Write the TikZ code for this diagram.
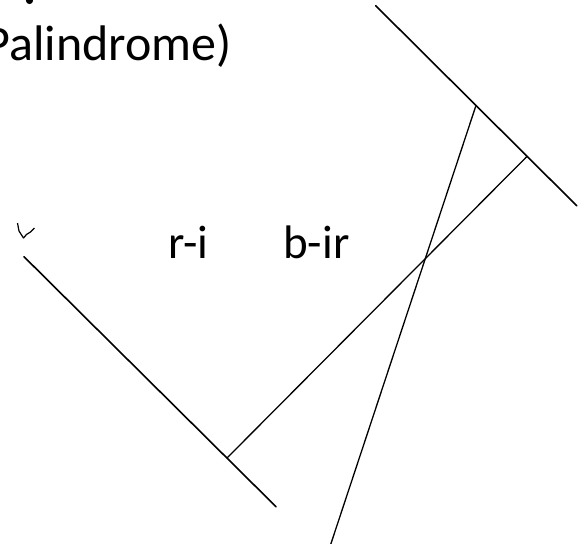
\documentclass[tikz,border=0pt]{standalone}
\usepackage{fontspec}
\setmainfont{Carlito}
\begin{document}
\begin{tikzpicture}[x=1pt,y=-1pt,
  mirror/.style={line width=1.6pt, line cap=round},
  ray/.style={line width=1.3pt},
  lbl/.style={inner sep=0pt, font=\fontsize{47}{56}\selectfont},
  head/.style={inner sep=0pt, font=\fontsize{50}{60}\selectfont}]
\useasboundingbox (0,0) rectangle (588,543);
\clip (0,0) rectangle (588,543);
% cut-off dot of heading above
\fill (29.5,0.5) circle (3.6pt);
\node[head, anchor=base east] (title) at (232,60) {(Palindrome)};
% mirrors
\coordinate (m1a) at (375.7,5.7);
\coordinate (m1b) at (576.7,205.7);
\coordinate (m2a) at (24,256.7);
\coordinate (m2b) at (276,506.7);
\draw[mirror] (m1a) -- (m1b);
\draw[mirror] (m2a) -- (m2b);
% rays
\coordinate (p1) at (475.7,106.3);
\coordinate (p2) at (526.7,156.7);
\coordinate (p3) at (226.7,458.3);
\coordinate (p4) at (330.5,545);
\draw[ray] (p1) -- (p4);
\draw[ray] (p2) -- (p3);
% small hand mark
\draw[line width=1.2pt, line join=round] (17.5,223) -- (19,231) -- (23.5,238) -- (26.5,234.5) -- (30.5,232) -- (34.5,228);
% labels
\node[lbl, anchor=base west] (ri) at (168,258.3) {r-i};
\node[lbl, anchor=base west] (bir) at (283,258.3) {b-ir};
\end{tikzpicture}
\end{document}
